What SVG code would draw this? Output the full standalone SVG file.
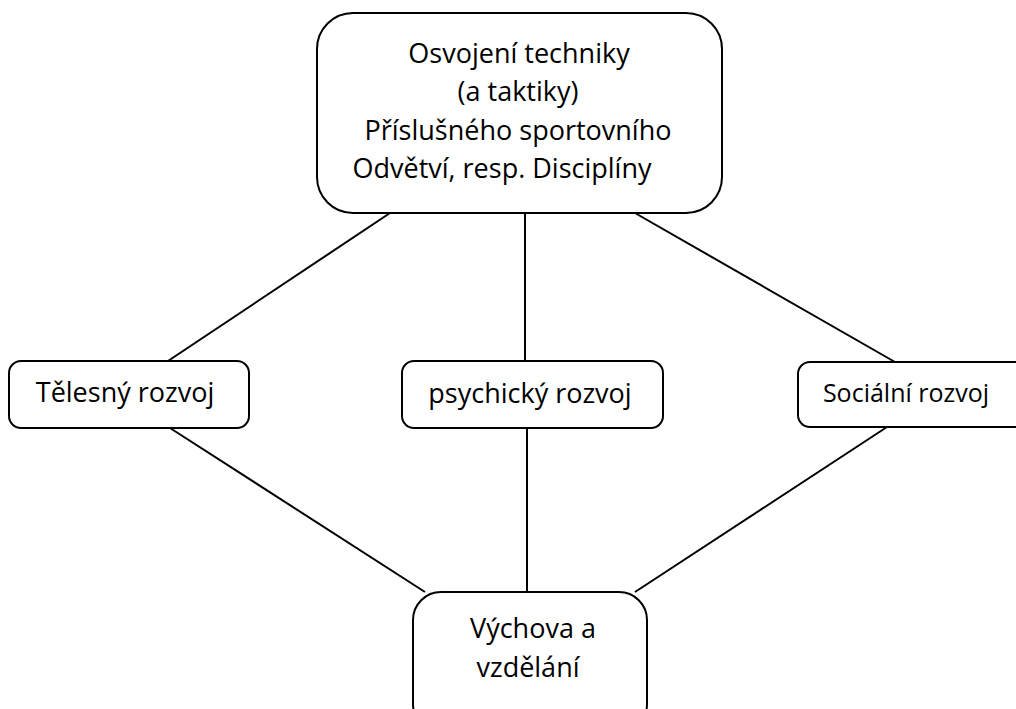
<svg xmlns="http://www.w3.org/2000/svg" width="1016" height="709" viewBox="0 0 1016 709">
<style>
.box{fill:#fff;stroke:#000;stroke-width:2}
.t{font-family:"Open Sans","Liberation Sans",sans-serif;font-size:27px;fill:#000;text-anchor:middle;font-variant-ligatures:none}
.c{stroke:#000;stroke-width:2;fill:none}
</style>
<rect width="1016" height="709" fill="#fff"/>
<g id="connectors">
<line class="c" x1="390" y1="213" x2="168" y2="361"/>
<line class="c" x1="525" y1="213" x2="525" y2="361"/>
<line class="c" x1="635" y1="213" x2="895" y2="362"/>
<line class="c" x1="170" y1="428" x2="425" y2="592"/>
<line class="c" x1="527" y1="428" x2="527" y2="592"/>
<line class="c" x1="887" y1="427" x2="635" y2="592"/>
</g>
<g id="top">
<rect class="box" x="317" y="13" width="405" height="200" rx="36"/>
<text class="t" x="519" y="63">Osvojení techniky</text>
<text class="t" x="518" y="101">(a taktiky)</text>
<text class="t" x="518" y="140">Příslušného sportovního</text>
<text class="t" x="502" y="178">Odvětví, resp. Disciplíny</text>
</g>
<g id="telesny">
<rect class="box" x="9" y="361" width="240" height="67" rx="12"/>
<text class="t" x="125" y="402">Tělesný rozvoj</text>
</g>
<g id="psychicky">
<rect class="box" x="402" y="361" width="261" height="67" rx="12"/>
<text class="t" x="530" y="403">psychický rozvoj</text>
</g>
<g id="socialni">
<rect class="box" x="798" y="362" width="240" height="65" rx="12"/>
<text class="t" x="906" y="402" style="font-size:25px">Sociální rozvoj</text>
</g>
<g id="vychova">
<rect class="box" x="413" y="592" width="234" height="140" rx="28"/>
<text class="t" x="533" y="638">Výchova a</text>
<text class="t" x="528" y="677">vzdělání</text>
</g>
</svg>
